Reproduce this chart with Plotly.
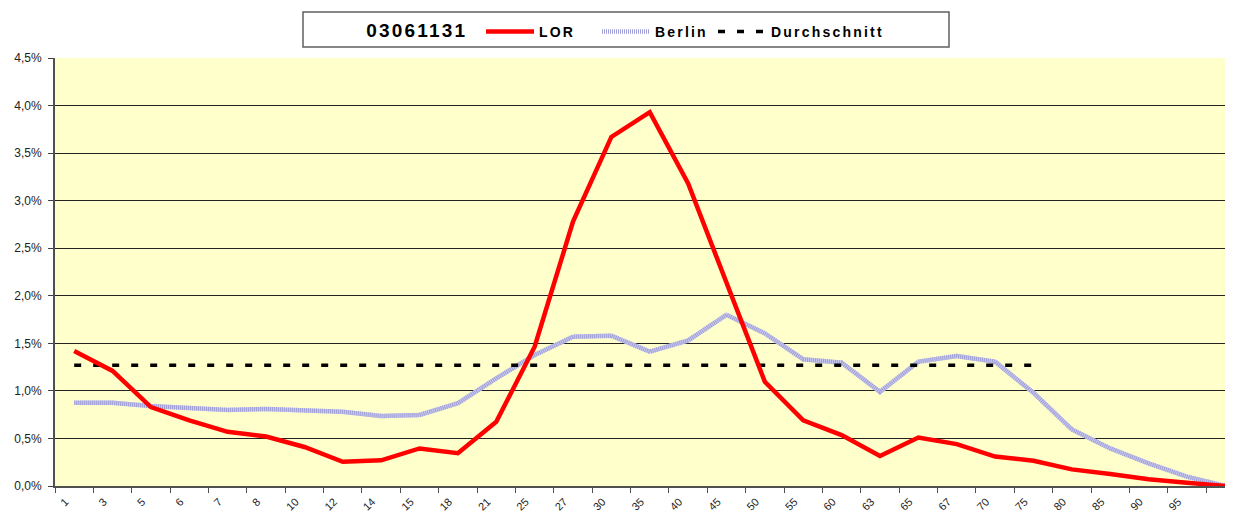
import plotly.graph_objects as go

# ---- data ----
altersgruppen = ["1", "3", "5", "6", "7", "8", "10", "12", "14", "15", "18", "21", "25", "27",
                 "30", "35", "40", "45", "50", "55", "60", "63", "65", "67", "70", "75",
                 "80", "85", "90", "95", ""]
lor = [1.42, 1.21, 0.83, 0.69, 0.57, 0.52, 0.41, 0.255, 0.27, 0.395, 0.345, 0.675, 1.465,
       2.78, 3.67, 3.93, 3.18, 2.14, 1.095, 0.69, 0.535, 0.315, 0.51, 0.44, 0.31, 0.265,
       0.175, 0.126, 0.07, 0.035, 0.0]
berlin = [0.875, 0.875, 0.84, 0.817, 0.80, 0.81, 0.79, 0.78, 0.736, 0.747, 0.87, 1.132,
          1.377, 1.57, 1.58, 1.412, 1.53, 1.80, 1.605, 1.332, 1.297, 0.99, 1.307, 1.367,
          1.307, 0.98, 0.595, 0.395, 0.238, 0.098, 0.0]
durchschnitt_wert = 1.27
durchschnitt_bis = "75"
y_ticks = [0.0, 0.5, 1.0, 1.5, 2.0, 2.5, 3.0, 3.5, 4.0, 4.5]
y_ticktext = ["0,0%", "0,5%", "1,0%", "1,5%", "2,0%", "2,5%", "3,0%", "3,5%", "4,0%", "4,5%"]
legend_titel = "03061131"

# ---- geometry (page has an 8px body margin) ----
OFF = 8
W, H = 1233 - OFF, 513 - OFF
ML, MR, MT, MB = 55 - OFF, 0, 58 - OFF, 27
PW, PH = W - ML - MR, H - MT - MB
idx = list(range(len(altersgruppen)))
n_avg = altersgruppen.index(durchschnitt_bis) + 1
FONT = "Liberation Sans, Arial, sans-serif"
LABEL_SHIFT = 0.23  # rotated labels sit slightly left of the category centre


def px_x(page_x):  # page pixel -> paper x
    return (page_x - (ML + OFF)) / PW


def px_y(page_y):  # page pixel -> paper y
    return (H + OFF - MB - page_y) / PH


fig = go.Figure()
# Berlin: lavender base + striped overlay
fig.add_trace(go.Scatter(x=idx, y=berlin, mode="lines", showlegend=False, hoverinfo="skip",
                         line=dict(color="#c9c9ee", width=4.5)))
fig.add_trace(go.Scatter(x=idx, y=berlin, mode="lines", name="Berlin", legendrank=2,
                         line=dict(color="#9f9fd6", width=4.5, dash="1px,1px")))
fig.add_trace(go.Scatter(x=idx[:n_avg], y=[durchschnitt_wert] * n_avg, mode="lines",
                         name="Durchschnitt", legendrank=3,
                         line=dict(color="black", width=3.5, dash="7px,12px")))
fig.add_trace(go.Scatter(x=idx, y=lor, mode="lines", name="LOR", legendrank=1,
                         line=dict(color="#ff0000", width=4.5)))
# invisible spacer entry so the last legend label is not clipped
fig.add_trace(go.Scatter(x=[None], y=[None], mode="lines", name=" ", legendrank=4,
                         hoverinfo="skip", line=dict(color="rgba(0,0,0,0)", width=0)))

fig.update_layout(
    width=W, height=H,
    margin=dict(l=ML, r=MR, t=MT, b=MB, autoexpand=False),
    paper_bgcolor="white",
    plot_bgcolor="#ffffcc",
    font=dict(family=FONT, size=11, color="#222"),
    showlegend=True,
    legend=dict(
        orientation="h",
        xref="container", yref="container",
        x=(481 - OFF) / W, xanchor="left",
        y=1 - (16 - OFF) / H, yanchor="top",
        bgcolor="rgba(0,0,0,0)", borderwidth=0,
        font=dict(family=FONT, size=14, color="black", weight="bold"),
        itemwidth=48,
        entrywidth=53, entrywidthmode="pixels",
        traceorder="normal",
    ),
    shapes=[dict(type="rect", xref="paper", yref="paper",
                 x0=px_x(303), x1=px_x(949), y0=px_y(47), y1=px_y(12),
                 line=dict(color="#606060", width=1.5), fillcolor="white", layer="below")],
    annotations=[dict(text="<b>" + legend_titel + "</b>", xref="paper", yref="paper",
                      x=px_x(373), y=px_y(30), xanchor="left", yanchor="middle",
                      showarrow=False, font=dict(family=FONT, size=19, color="black"))],
)

fig.update_xaxes(
    range=[-0.5, 30.2], automargin=False,
    tickmode="array", tickvals=[i - LABEL_SHIFT for i in idx], ticktext=altersgruppen,
    ticks="", tickangle=-45, ticklabelstandoff=3,
    tickfont=dict(family=FONT, size=11, color="#222"),
    showgrid=False, zeroline=False,
    showline=True, linecolor="#505050", linewidth=2,
    minor=dict(tick0=-0.5, dtick=1, ticks="outside", ticklen=5, tickcolor="#505050",
               tickwidth=1, showgrid=False),
)
fig.update_yaxes(
    range=[0, 4.5], automargin=False,
    tickmode="array", tickvals=y_ticks, ticktext=y_ticktext,
    ticks="outside", ticklen=5, tickcolor="#404040", ticklabelstandoff=4,
    tickfont=dict(family=FONT, size=12, color="#222"),
    showgrid=True, gridcolor="#222", gridwidth=1,
    zeroline=False,
    showline=True, linecolor="#505050", linewidth=2,
)

# widen the legend lettering like the original's spaced bold type
post = (
    "var gd=document.getElementById('{plot_id}');"
    "gd.querySelectorAll('.legendtext').forEach(function(t){t.style.letterSpacing='2.2px';});"
    "gd.querySelectorAll('.annotation-text').forEach(function(t){t.style.letterSpacing='2.2px';});"
)
fig.write_html("out.html", post_script=post)
